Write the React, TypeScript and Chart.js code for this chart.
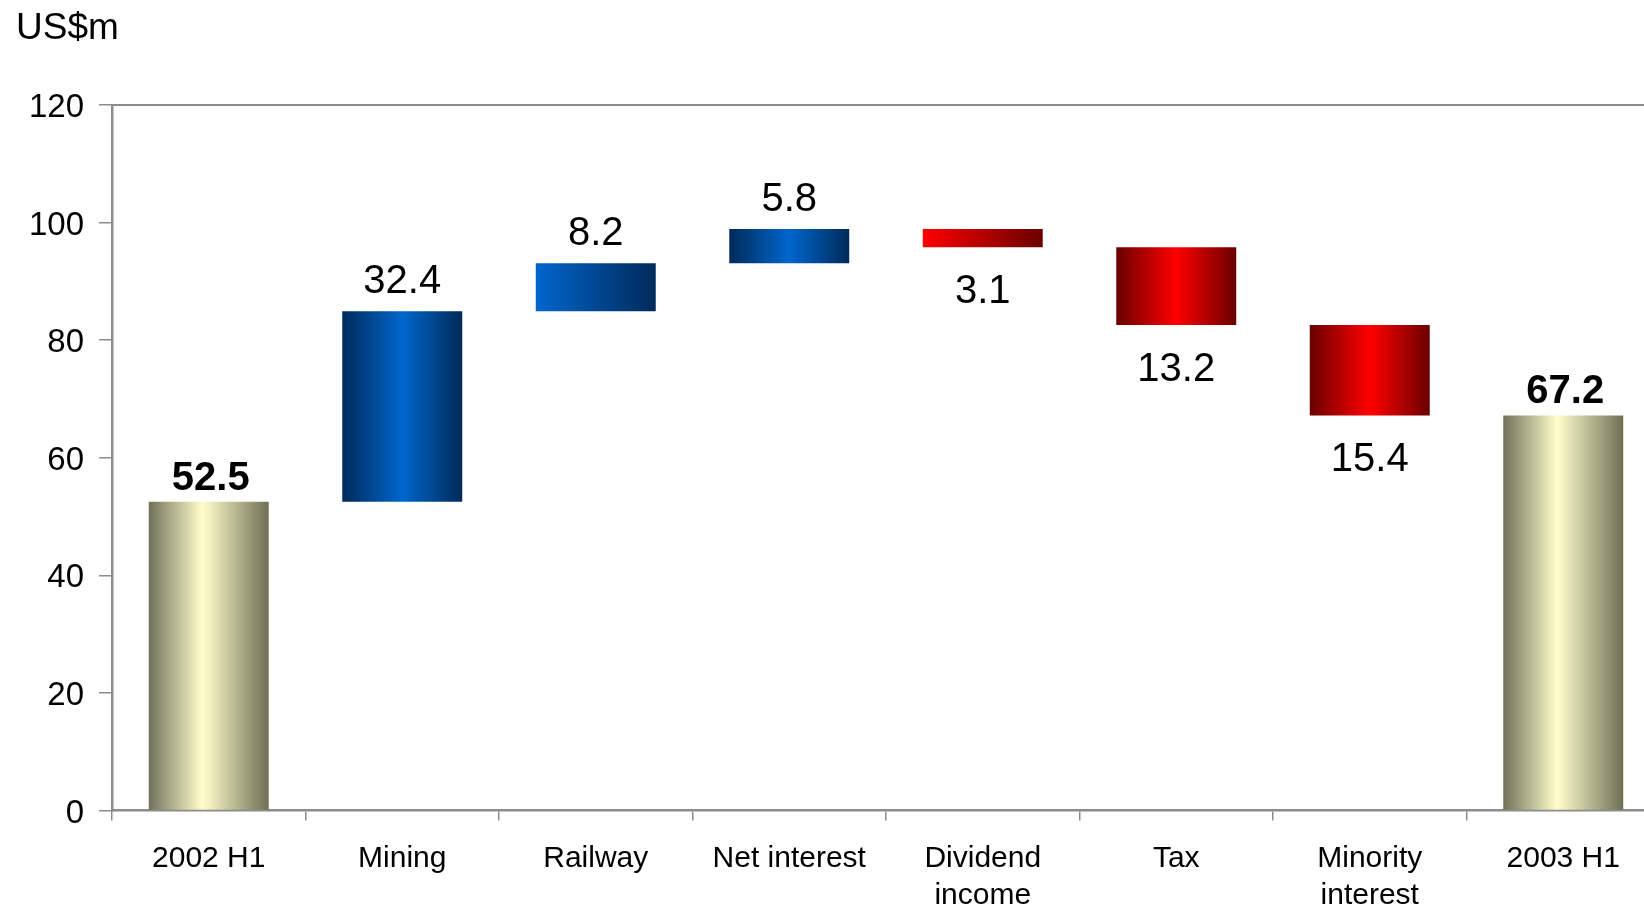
import React, { useEffect, useRef } from 'react';
import { Chart, registerables } from 'chart.js';

Chart.register(...registerables);

// ---- data ----
const categories: (string | string[])[] = [
  '2002 H1',
  'Mining',
  'Railway',
  'Net interest',
  ['Dividend', 'income'],
  'Tax',
  ['Minority', 'interest'],
  '2003 H1',
];
const openingTotal = 52.5;
const changes = [32.4, 8.2, 5.8, -3.1, -13.2, -15.4];
const closingTotal = 67.2;
const yMin = 0;
const yMax = 120;
const yStep = 20;
const unitLabel = 'US$m';

// ---- styles (not data) ----
type Stops = [number, string][];
const GOLD: Stops = [[0, '#71715a'], [0.45, '#ffffcc'], [1, '#6f6f56']];
const BLUE_MID: Stops = [[0, '#002a5a'], [0.5, '#0066cc'], [1, '#002a5a']];
const BLUE_FADE: Stops = [[0, '#0066cc'], [1, '#002a5a']];
const RED_MID: Stops = [[0, '#6a0000'], [0.5, '#ff0000'], [1, '#6a0000']];
const RED_FADE: Stops = [[0, '#ff0000'], [1, '#6a0000']];
const barFills: Stops[] = [GOLD, BLUE_MID, BLUE_FADE, BLUE_MID, RED_FADE, RED_MID, RED_MID, GOLD];

const FONT = "'Liberation Sans', Arial, Helvetica, sans-serif";
const AXIS_GRAY = '#8c8c8c';
const BAR_FRACTION = 0.62;

// build waterfall ranges from data
const ranges: [number, number][] = [];
ranges.push([0, openingTotal]);
{
  let level = openingTotal;
  changes.forEach((c) => {
    ranges.push([level, level + c]);
    level += c;
  });
}
ranges.push([0, closingTotal]);
const valueTexts = [openingTotal, ...changes.map((c) => Math.abs(c)), closingTotal].map((v) => v.toFixed(1));

const decorPlugin = {
  id: 'decor',
  beforeDatasetsDraw(chart: any) {
    const { ctx, chartArea } = chart;
    ctx.save();
    ctx.strokeStyle = AXIS_GRAY;
    ctx.lineWidth = 2;
    ctx.beginPath();
    ctx.moveTo(chartArea.left - 1, chartArea.top);
    ctx.lineTo(chartArea.right, chartArea.top);
    ctx.stroke();
    ctx.restore();
  },
  afterDatasetsDraw(chart: any) {
    const { ctx } = chart;
    const yScale = chart.scales.y;
    const meta = chart.getDatasetMeta(0);
    const last = categories.length - 1;
    ctx.save();
    ctx.fillStyle = '#000';
    ctx.textAlign = 'center';
    ctx.textBaseline = 'alphabetic';
    meta.data.forEach((bar: any, i: number) => {
      const r = ranges[i];
      const hi = yScale.getPixelForValue(Math.max(r[0], r[1]));
      const lo = yScale.getPixelForValue(Math.min(r[0], r[1]));
      const isTotal = i === 0 || i === last;
      if (isTotal) {
        ctx.font = `bold 40px ${FONT}`;
        ctx.fillText(valueTexts[i], bar.x + 2, hi - 12);
      } else if (r[1] >= r[0]) {
        ctx.font = `40px ${FONT}`;
        ctx.fillText(valueTexts[i], bar.x, hi - 18);
      } else {
        ctx.font = `40px ${FONT}`;
        ctx.fillText(valueTexts[i], bar.x, lo + 56);
      }
    });
    ctx.restore();
  },
  afterDraw(chart: any) {
    const { ctx } = chart;
    ctx.save();
    ctx.fillStyle = '#000';
    ctx.font = `37px ${FONT}`;
    ctx.textAlign = 'left';
    ctx.textBaseline = 'alphabetic';
    ctx.fillText(unitLabel, 16, 39);
    ctx.restore();
  },
};

export default function App() {
  const canvasRef = useRef<HTMLCanvasElement | null>(null);

  useEffect(() => {
    const canvas = canvasRef.current;
    if (!canvas) return;
    const chart = new Chart(canvas, {
      type: 'bar',
      data: {
        labels: categories as any,
        datasets: [
          {
            data: ranges as any,
            borderWidth: 0,
            barPercentage: BAR_FRACTION,
            categoryPercentage: 1,
            backgroundColor: (c: any) => {
              const ch = c.chart;
              const xs = ch.scales?.x;
              if (c.dataIndex === undefined || !xs) return '#888';
              const i = c.dataIndex;
              const cw = (xs.right - xs.left) / categories.length;
              const center = xs.getPixelForValue(i);
              const half = (cw * BAR_FRACTION) / 2;
              if (!isFinite(center) || !isFinite(half) || half <= 0) return '#888';
              const g = ch.ctx.createLinearGradient(center - half, 0, center + half, 0);
              barFills[i].forEach(([o, col]) => g.addColorStop(o, col));
              return g;
            },
          },
        ],
      },
      options: {
        responsive: false,
        animation: false,
        events: [],
        layout: { padding: { top: 105, right: 10, left: 0, bottom: 0 } },
        plugins: {
          legend: { display: false },
          tooltip: { enabled: false },
          title: { display: false },
        },
        scales: {
          x: {
            type: 'category',
            offset: true,
            grid: {
              offset: true,
              drawOnChartArea: false,
              drawTicks: true,
              tickLength: 10,
              color: AXIS_GRAY,
              lineWidth: 1.5,
            },
            border: { display: true, color: AXIS_GRAY, width: 2.5 },
            ticks: {
              color: '#000',
              font: { family: FONT, size: 30, lineHeight: 1.22 },
              maxRotation: 0,
              minRotation: 0,
              autoSkip: false,
              padding: 20,
            },
            afterFit: (s: any) => {
              s.height = 97.5;
            },
          },
          y: {
            min: yMin,
            max: yMax,
            grid: {
              drawOnChartArea: false,
              drawTicks: true,
              tickLength: 13,
              color: AXIS_GRAY,
              lineWidth: 1.5,
            },
            border: { display: true, color: AXIS_GRAY, width: 2.5 },
            ticks: {
              stepSize: yStep,
              color: '#000',
              font: { family: FONT, size: 33 },
              padding: 15,
              labelOffset: 3,
            },
            afterFit: (s: any) => {
              s.width = 112;
            },
          },
        },
      },
      plugins: [decorPlugin],
    });
    return () => chart.destroy();
  }, []);

  return (
    <div
      style={{
        position: 'fixed',
        left: 0,
        top: 0,
        width: 1644,
        height: 908,
        overflow: 'hidden',
        background: '#fff',
      }}
    >
      <canvas ref={canvasRef} width={1670} height={908} style={{ display: 'block' }} />
    </div>
  );
}
